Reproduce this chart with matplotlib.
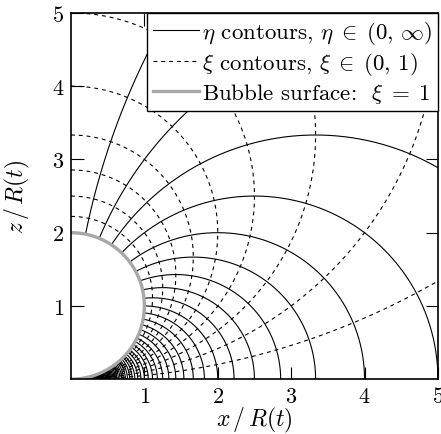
import numpy as np
import matplotlib
matplotlib.use("Agg")
import matplotlib.pyplot as plt
from matplotlib.lines import Line2D

plt.rcParams['font.family'] = 'serif'
plt.rcParams['font.serif'] = ['cmr10']
plt.rcParams['mathtext.fontset'] = 'cm'
plt.rcParams['axes.formatter.use_mathtext'] = True

# contour levels (tangent-sphere coordinates)
eta_levels = [0.1, 0.2, 0.3, 0.4, 0.5, 0.6, 0.7, 0.8, 0.9, 1.0,
              1.1, 1.2, 1.3, 1.4, 1.5, 1.6, 1.7, 1.8, 1.9, 2.0,
              2.1, 2.2, 2.3, 2.4, 2.5, 2.6, 2.7, 2.8, 2.9, 3.0,
              3.1, 3.2, 3.3, 3.4, 3.5, 3.6, 3.7, 3.8, 3.9, 4.0,
              4.1, 4.2, 4.3, 4.4, 4.5, 4.6, 4.7, 4.8, 4.9, 5.0,
              5.1, 5.2, 5.3, 5.4, 5.5, 5.6, 5.7, 5.8, 5.9, 6.0,
              6.1, 6.2, 6.3, 6.4, 6.5, 6.6, 6.7, 6.8, 6.9, 7.0,
              7.1, 7.2, 7.3, 7.4, 7.5, 7.6, 7.7, 7.8, 7.9, 8.0]
xi_levels = [0.1, 0.2, 0.3, 0.4, 0.5, 0.6, 0.7, 0.8, 0.9]
bubble_xi = 1.0
xticks = [1, 2, 3, 4, 5]
yticks = [1, 2, 3, 4, 5]

def to_xz(eta, xi):
    d = eta**2 + xi**2
    return 2*eta/d, 2*xi/d

fig = plt.figure(figsize=(4.41, 4.35), dpi=100)
ax = fig.add_axes([0.161, 0.126, 0.832, 0.842])

DASH = (3.5, 3.5)

xi_s = np.linspace(0, 1, 800)
for e in eta_levels:
    x, z = to_xz(e, xi_s)
    ax.plot(x, z, color='black', lw=0.8, solid_capstyle='butt')

eta_s = np.concatenate([np.linspace(0, 10, 3000), np.linspace(10, 400, 3000)])
for c in xi_levels:
    x, z = to_xz(eta_s, c)
    ax.plot(x, z, color='black', lw=0.8, dashes=DASH)

eta_b = np.concatenate([np.linspace(0, 10, 3000), np.linspace(10, 2000, 3000)])
xb, zb = to_xz(eta_b, bubble_xi)
ax.plot(xb, zb, color='#a8a8a8', lw=2.4, solid_capstyle='butt')

ax.set_xlim(0, 5)
ax.set_ylim(0, 5)
ax.set_xticks(xticks)
ax.set_yticks(yticks)
ax.tick_params(direction='in', length=9, width=0.8, top=True, right=True,
               labelsize=16, pad=5)
for s in ax.spines.values():
    s.set_linewidth(1.2)

ax.set_xlabel(r'$x\,/\,R(t)$', fontsize=17, labelpad=-1)
ax.set_ylabel(r'$z\,/\,R(t)$', fontsize=17, labelpad=14)

handles = [Line2D([], [], color='black', lw=0.8),
           Line2D([], [], color='black', lw=0.8, dashes=DASH),
           Line2D([], [], color='#a8a8a8', lw=2.4)]
labels = [r'$\eta$ contours, $\eta\;\in\;(0,\,\infty)$',
          r'$\xi$ contours, $\xi\;\in\;(0,\,1)$',
          r'Bubble surface:  $\xi\;=\;1$']
leg = ax.legend(handles, labels, loc='upper right', borderaxespad=0,
                fontsize=16.5, fancybox=False, framealpha=1, edgecolor='black',
                handlelength=2.0, handletextpad=0.15, borderpad=0.25,
                labelspacing=0.18)
leg.get_frame().set_linewidth(1.0)

fig.savefig('out.png', dpi=100)
